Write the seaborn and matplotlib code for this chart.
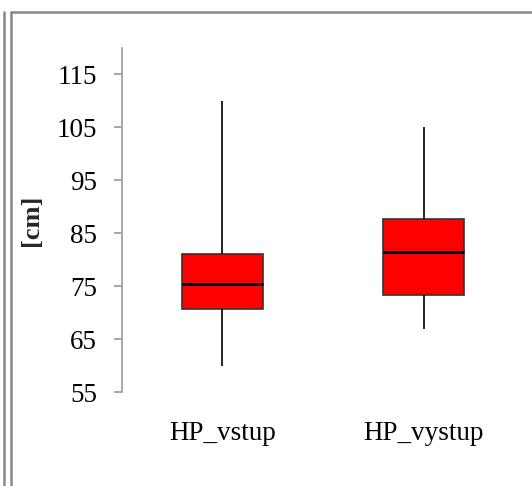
import pandas as pd
import matplotlib.pyplot as plt
import seaborn as sns
from matplotlib.lines import Line2D

# five-number summaries (min, Q1, median, Q3, max)
categories = ["HP_vstup", "HP_vystup"]
hp_vstup = [60, 70.7, 75.4, 81.0, 110]
hp_vystup = [67, 73.4, 81.4, 87.7, 105]
y_ticks = [55, 65, 75, 85, 95, 105, 115]

df = pd.DataFrame({
    "group": [categories[0]] * len(hp_vstup) + [categories[1]] * len(hp_vystup),
    "value": hp_vstup + hp_vystup,
})

sns.set_theme(style="white")
plt.rcParams["font.family"] = ["Liberation Serif", "DejaVu Serif"]

fig = plt.figure(figsize=(5.32, 4.86), dpi=100)
ax = fig.add_axes([0.2293, 0.1934, 0.7557, 0.7078])

sns.boxplot(
    data=df, x="group", y="value", ax=ax,
    color="#ff0000", saturation=1, width=0.4,
    whis=(0, 100), showcaps=False,
    linecolor="black", linewidth=1.2,
    medianprops={"linewidth": 2.0, "color": "black"},
    boxprops={"edgecolor": "#333333"},
)

ax.set_ylim(55, 120)
ax.set_xlim(-0.5, 1.5)
ax.set_yticks(y_ticks)
ax.set_xlabel("")
ax.set_ylabel("[cm]", fontsize=19, fontweight="bold", labelpad=10)

for side in ["top", "right", "bottom"]:
    ax.spines[side].set_visible(False)
ax.spines["left"].set_color("#999999")
ax.spines["left"].set_linewidth(1.2)

ax.tick_params(axis="y", which="major", left=True, length=6, width=1.2,
               color="#999999", pad=12, labelsize=19.5, labelcolor="black")
ax.tick_params(axis="x", length=0, pad=21, labelsize=19.5, labelcolor="black")

# page frame around the chart
h = 1 - 12 / 486
fig.add_artist(Line2D([4 / 532, 4 / 532], [0, h], color="#888888", lw=1.8))
fig.add_artist(Line2D([11 / 532, 11 / 532], [0, h], color="#888888", lw=1.8))
fig.add_artist(Line2D([11 / 532, 1], [h, h], color="#888888", lw=1.8))

fig.savefig("out.png", dpi=100)
